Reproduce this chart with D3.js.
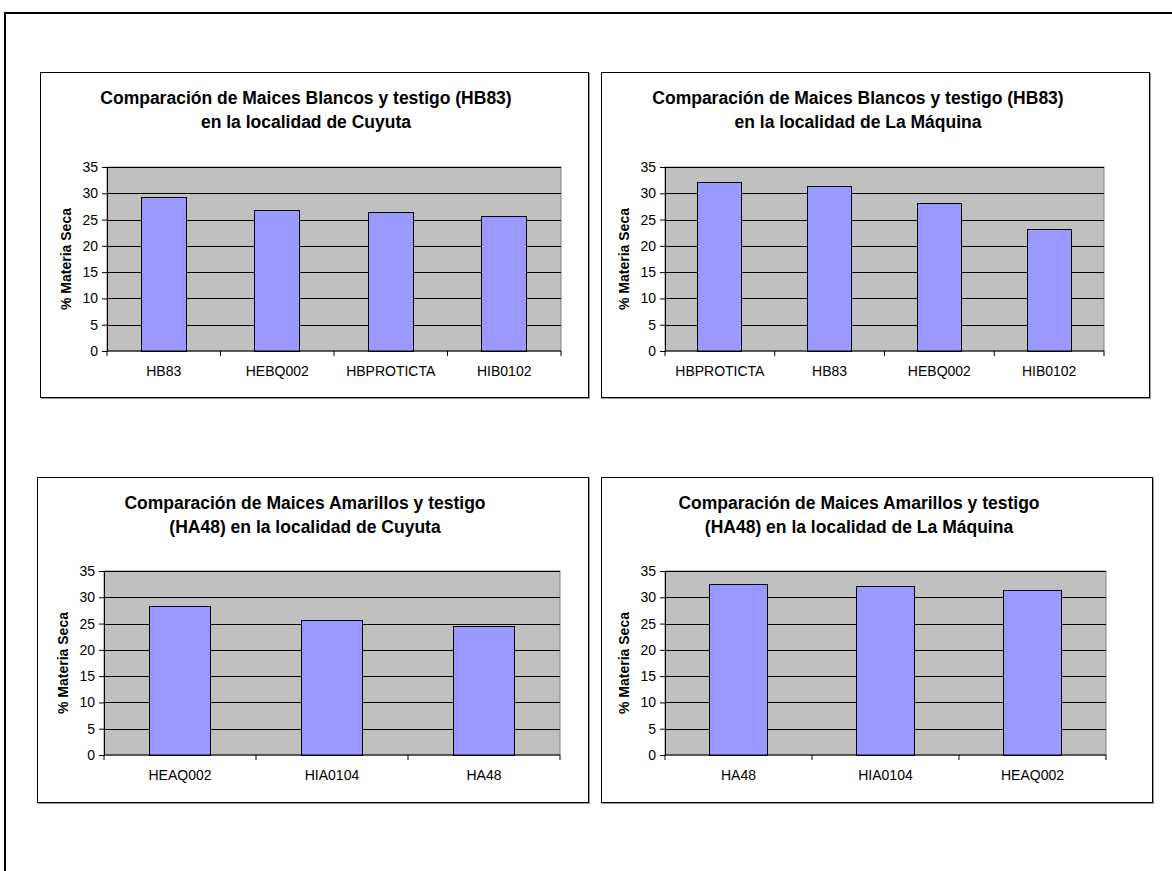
<!DOCTYPE html>
<html>
<head>
<meta charset="utf-8">
<script src="https://cdn.jsdelivr.net/npm/d3@7"></script>
<style>
  html, body { margin: 0; padding: 0; background: #fff; }
  svg { display: block; font-family: "Liberation Sans", Arial, sans-serif; }
</style>
</head>
<body>
<svg id="chart" width="1172" height="871"></svg>
<script>
// Values.
const blancosCuyutaCats = ['HB83', 'HEBQ002', 'HBPROTICTA', 'HIB0102'];
const blancosCuyutaVals = [29.2, 26.8, 26.3, 25.5];

const blancosMaquinaCats = ['HBPROTICTA', 'HB83', 'HEBQ002', 'HIB0102'];
const blancosMaquinaVals = [32.0, 31.3, 28.0, 23.2];

const amarillosCuyutaCats = ['HEAQ002', 'HIA0104', 'HA48'];
const amarillosCuyutaVals = [28.2, 25.6, 24.5];

const amarillosMaquinaCats = ['HA48', 'HIA0104', 'HEAQ002'];
const amarillosMaquinaVals = [32.5, 32.1, 31.2];

const blancosCuyutaTitle = ['Comparación de Maices Blancos y testigo (HB83)', 'en la localidad de Cuyuta'];
const blancosMaquinaTitle = ['Comparación de Maices Blancos y testigo (HB83)', 'en la localidad de La Máquina'];
const amarillosCuyutaTitle = ['Comparación de Maices Amarillos y testigo', '(HA48) en la localidad de Cuyuta'];
const amarillosMaquinaTitle = ['Comparación de Maices Amarillos y testigo', '(HA48) en la localidad de La Máquina'];

const yTicks = [0, 5, 10, 15, 20, 25, 30, 35];
const yLabel = '% Materia Seca';

const svg = d3.select('#chart');

// Outer page frame (only top and left edges fall inside the picture).
svg.append('rect')
    .attr('x', 5).attr('y', 13)
    .attr('width', 1200).attr('height', 900)
    .attr('fill', 'none').attr('stroke', '#000').attr('stroke-width', 2);

/**
 * Draws one Excel-style column chart inside its own bordered box.
 * box: outer chart area; plot: margins of the grey plot area inside it.
 */
function drawPanel(box, plot, titleX, titleLines, cats, vals) {
  const g = svg.append('g').attr('transform', `translate(${box.x},${box.y})`);

  // chart area border with faint shadow
  g.append('rect')
      .attr('x', 1.5).attr('y', 1.5)
      .attr('width', box.w).attr('height', box.h)
      .attr('fill', 'none').attr('stroke', '#9a9a9a').attr('stroke-width', 1);
  g.append('rect')
      .attr('x', 0.5).attr('y', 0.5)
      .attr('width', box.w).attr('height', box.h)
      .attr('fill', '#fff').attr('stroke', '#000').attr('stroke-width', 1);

  // title
  g.append('text')
      .attr('x', titleX).attr('y', 32)
      .attr('text-anchor', 'middle')
      .attr('font-size', 17.5).attr('font-weight', 'bold')
      .selectAll('tspan').data(titleLines).join('tspan')
      .attr('x', titleX).attr('dy', (d, i) => i === 0 ? 0 : 23.5)
      .text(d => d);

  const x0 = plot.left, x1 = box.w - plot.right;
  const y0 = box.h - plot.bottom, y1 = plot.top;

  const x = d3.scaleBand().domain(cats).range([x0, x1]).paddingInner(0.6).paddingOuter(0.3);
  const xb = d3.scaleBand().domain(cats).range([x0, x1]);
  const y = d3.scaleLinear().domain([0, 35]).range([y0, y1]);

  // plot area
  g.append('rect')
      .attr('x', x0).attr('y', y1)
      .attr('width', x1 - x0).attr('height', y0 - y1)
      .attr('fill', '#c0c0c0').attr('stroke', '#808080').attr('stroke-width', 1);

  // horizontal gridlines
  g.append('g')
      .attr('transform', `translate(${x0},0)`)
      .call(d3.axisLeft(y).tickValues(yTicks.slice(1)).tickSize(-(x1 - x0)).tickFormat(''))
      .call(a => a.select('.domain').remove())
      .call(a => a.selectAll('line').attr('stroke', '#000').attr('shape-rendering', 'crispEdges'));

  // bars
  g.append('g').selectAll('rect').data(vals).join('rect')
      .attr('x', (d, i) => x(cats[i]))
      .attr('y', d => y(d))
      .attr('width', x.bandwidth())
      .attr('height', d => y0 - y(d))
      .attr('fill', '#9999ff').attr('stroke', '#000').attr('stroke-width', 1)
      .attr('shape-rendering', 'crispEdges');

  // y axis
  g.append('g')
      .attr('transform', `translate(${x0},0)`)
      .call(d3.axisLeft(y).tickValues(yTicks).tickSize(5).tickPadding(4))
      .call(a => a.select('.domain').attr('stroke', '#000'))
      .call(a => a.selectAll('line').attr('stroke', '#000'))
      .call(a => a.selectAll('text').attr('font-size', 14).attr('fill', '#000')
          .attr('font-family', '"Liberation Sans", Arial, sans-serif'));

  // x axis: ticks at category boundaries, labels centred
  const bounds = cats.map(c => xb(c)).concat([x1]);
  const xa = g.append('g').attr('transform', `translate(0,${y0})`);
  xa.append('line').attr('x1', x0).attr('x2', x1).attr('stroke', '#000');
  xa.selectAll('line.tk').data(bounds).join('line').attr('class', 'tk')
      .attr('x1', d => d).attr('x2', d => d).attr('y1', 0).attr('y2', 5)
      .attr('stroke', '#000');
  xa.selectAll('text').data(cats).join('text')
      .attr('x', d => xb(d) + xb.bandwidth() / 2)
      .attr('y', 25)
      .attr('text-anchor', 'middle')
      .attr('font-size', 14)
      .text(d => d);

  // y axis title
  g.append('text')
      .attr('transform', `translate(${plot.left - 36},${(y0 + y1) / 2}) rotate(-90)`)
      .attr('text-anchor', 'middle')
      .attr('font-size', 14).attr('font-weight', 'bold')
      .text(yLabel);
}

drawPanel({x: 40, y: 72, w: 548, h: 325}, {left: 67, right: 27, top: 95, bottom: 46},
    266, blancosCuyutaTitle, blancosCuyutaCats, blancosCuyutaVals);
drawPanel({x: 601, y: 72, w: 548, h: 325}, {left: 64, right: 45, top: 95, bottom: 46},
    257, blancosMaquinaTitle, blancosMaquinaCats, blancosMaquinaVals);
drawPanel({x: 37, y: 477, w: 551, h: 325}, {left: 67, right: 28, top: 94, bottom: 47},
    268, amarillosCuyutaTitle, amarillosCuyutaCats, amarillosCuyutaVals);
drawPanel({x: 601, y: 477, w: 551, h: 325}, {left: 64, right: 46, top: 94, bottom: 47},
    258, amarillosMaquinaTitle, amarillosMaquinaCats, amarillosMaquinaVals);
</script>
</body>
</html>
